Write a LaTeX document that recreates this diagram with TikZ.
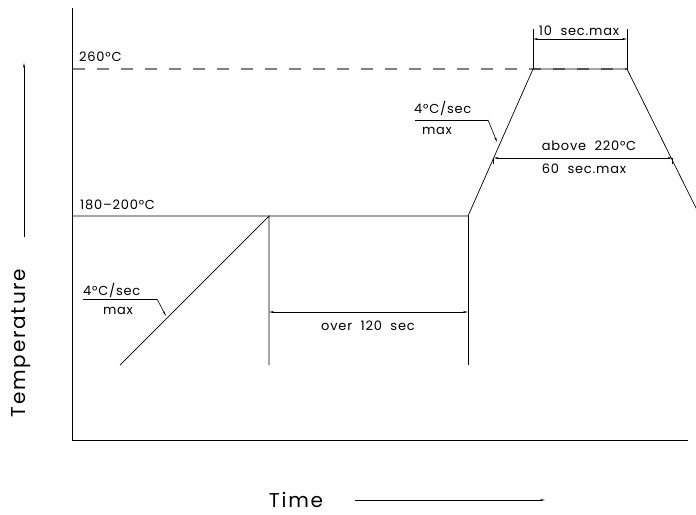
\documentclass[tikz,border=0pt]{standalone}
\usepackage{fontspec}
\setmainfont{Poppins}
\newfontfamily\cadfont{Poppins}[LetterSpace=6]
\newfontfamily\cadbig{Poppins}[LetterSpace=9]
\usetikzlibrary{arrows.meta}
\tikzset{
  ln/.style={line width=0.7pt, black},
  dim/.style={line width=0.6pt, black, {Stealth[length=5pt,width=2pt]}-{Stealth[length=5pt,width=2pt]}},
  lead/.style={line width=0.6pt, black, -{Stealth[length=5pt,width=2pt]}},
  lbl/.style={font=\cadfont\fontsize{13}{15}\selectfont, inner sep=0pt},
  big/.style={font=\cadbig\fontsize{20}{24}\selectfont, inner sep=0pt},
}
\begin{document}
\begin{tikzpicture}[x=1pt,y=-1pt]
\useasboundingbox (0,0) rectangle (696,514);
\begin{scope}
\clip (0,0) rectangle (696,514);
% coordinates
\coordinate (o) at (72,440);
\coordinate (ytop) at (72,8);
\coordinate (xend) at (688,440);
\coordinate (p0) at (120,365);
\coordinate (p1) at (269,216);
\coordinate (p2) at (468,216);
\coordinate (p3) at (533,69);
\coordinate (p4) at (627,69);
\coordinate (p5) at (698,212);
\coordinate (s0) at (72,216);
\coordinate (d0) at (73,69);
\coordinate (b1) at (269,365);
\coordinate (b2) at (468,365);
% axes
\draw[ln] (ytop) -- (o) -- (xend);
% dashed 260 line
\draw[line width=1.1pt, gray, dash pattern=on 12pt off 12pt] (d0) -- (p4);
% profile
\draw[ln] (s0) -- (p2) -- (p3) -- (p4) -- (p5);
\draw[ln] (p0) -- (p1) -- (b1);
\draw[ln] (p2) -- (b2);
% labels temps
\node[lbl, anchor=west] (t260) at (79,57) {260°C};
\node[lbl, anchor=west] (t180) at (80,205) {180–200°C};
% over 120 sec
\coordinate (oa) at (269,312);
\coordinate (ob) at (468,312);
\draw[dim] (oa) -- (ob);
\node[lbl] (over) at (368,326) {over\ \ 120\ \ sec};
% 10 sec max
\coordinate (ta) at (533,29);
\coordinate (tb) at (627,29);
\draw[ln, line width=0.6pt] (p3) -- (ta);
\draw[ln, line width=0.6pt] (p4) -- (tb);
\draw[dim] (533,39) coordinate (ta2) -- (627,39) coordinate (tb2);
\node[lbl] (ten) at (579,31) {10\ \ sec.max};
% 60 sec max
\coordinate (sa) at (493.6,158);
\coordinate (sb) at (672.5,158);
\draw[dim] (sa) -- (sb);
\draw[line width=0.5pt] (sa) -- ++(0,6);
\draw[line width=0.5pt] (sb) -- ++(0,6);
\node[lbl] (above) at (589,146) {above\ \ 220°C};
\node[lbl] (sixty) at (584,169) {60\ \ sec.max};
% left slope label
\node[lbl, anchor=west] (sl1) at (83,290) {4°C/sec};
\node[lbl] (sl1m) at (118,311) {max};
\coordinate (l1a) at (83,299);
\coordinate (l1b) at (157,299);
\coordinate (l1c) at (166,316);
\draw[ln, line width=0.6pt] (l1a) -- (l1b);
\draw[lead] (l1b) -- (l1c);
% right slope label
\node[lbl, anchor=west] (sl2) at (414,108) {4°C/sec};
\node[lbl] (sl2m) at (437,131) {max};
\coordinate (l2a) at (415,120);
\coordinate (l2b) at (488,120);
\coordinate (l2c) at (497,142);
\draw[ln, line width=0.6pt] (l2a) -- (l2b);
\draw[lead] (l2b) -- (l2c);
% axis titles
\node[big, rotate=90] (temp) at (21,343) {Temperature};
\coordinate (ta0) at (24,237);
\coordinate (ta1) at (24,63);
\draw[lead] (ta0) -- (ta1);
\node[big] (time) at (296,500) {Time};
\coordinate (xa0) at (355,500);
\coordinate (xa1) at (545,500);
\draw[lead] (xa0) -- (xa1);
\end{scope}
\end{tikzpicture}
\end{document}
